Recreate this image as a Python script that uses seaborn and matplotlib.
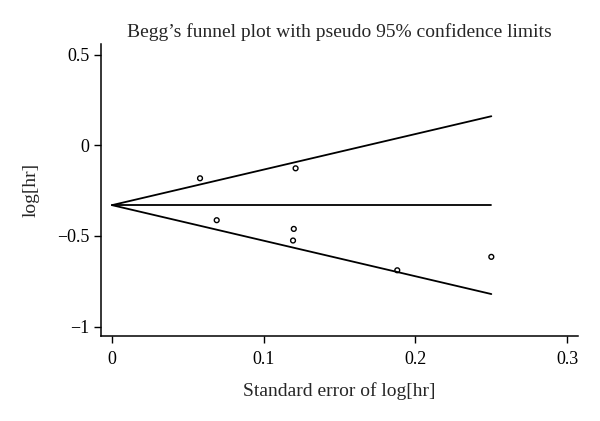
import numpy as np
import pandas as pd
import matplotlib
matplotlib.use("Agg")
import matplotlib.pyplot as plt
import seaborn as sns

# study estimates
se = [0.058, 0.121, 0.069, 0.1198, 0.1193, 0.188, 0.250]
loghr = [-0.182, -0.127, -0.413, -0.461, -0.525, -0.689, -0.615]

# pseudo 95% limits (endpoints)
line_se = [0.0, 0.25]
pooled = [-0.33, -0.33]
upper = [-0.33, 0.16]
lower = [-0.33, -0.82]

xticks = [0, 0.1, 0.2, 0.3]
xticklabels = ["0", "0.1", "0.2", "0.3"]
yticks = [0.5, 0, -0.5, -1]
yticklabels = ["0.5", "0", "\u22120.5", "\u22121"]

sns.set_style("ticks")
plt.rcParams['font.family'] = ['Liberation Serif', 'DejaVu Serif']

fig = plt.figure(figsize=(6, 4.21), dpi=100)
ax = fig.add_axes([0.169, 0.202, 0.794, 0.693])

df = pd.DataFrame({"se": se, "loghr": loghr})
lines = pd.DataFrame({"se": line_se * 3,
                      "y": pooled + upper + lower,
                      "grp": ["pooled"] * 2 + ["upper"] * 2 + ["lower"] * 2})

sns.lineplot(data=lines, x="se", y="y", units="grp", estimator=None,
             color="black", linewidth=1.3, ax=ax)
sns.scatterplot(data=df, x="se", y="loghr", ax=ax, marker="o", s=12,
                facecolor="none", edgecolor="black", linewidth=1.0)

ax.set_xlim(-0.007, 0.307)
ax.set_ylim(-1.051, 0.557)
ax.set_xticks(xticks)
ax.set_xticklabels(xticklabels)
ax.set_yticks(yticks)
ax.set_yticklabels(yticklabels)
ax.tick_params(direction="out", length=5, width=1, labelsize=13, colors="black")
ax.tick_params(axis="x", pad=6)
for s in ["top", "right"]:
    ax.spines[s].set_visible(False)
for s in ["left", "bottom"]:
    ax.spines[s].set_linewidth(1.1)
    ax.spines[s].set_color("black")

ax.set_xlabel("Standard error of log[hr]", fontsize=14, labelpad=10)
ax.set_ylabel("log[hr]", fontsize=14, labelpad=13)
ax.set_title("Begg\u2019s funnel plot with pseudo 95% confidence limits",
             fontsize=14, pad=5)

fig.savefig("out.png", dpi=100, facecolor="white")
